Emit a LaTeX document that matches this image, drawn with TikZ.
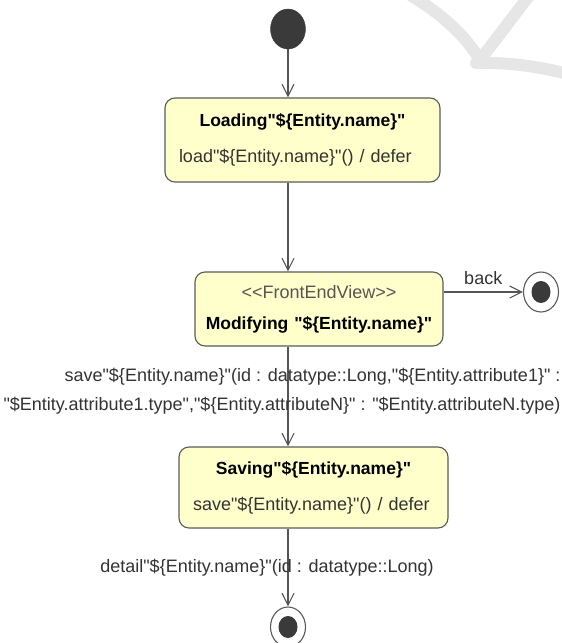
\documentclass[tikz,border=0pt]{standalone}
\usepackage{fontspec}
\setmainfont[Ligatures=TeXOff]{Liberation Sans}
\usetikzlibrary{arrows.meta, shapes.geometric}
\definecolor{StateFill}{HTML}{FFFFCC}
\definecolor{StateLine}{HTML}{5A5A5A}
\definecolor{EdgeGray}{HTML}{555555}
\definecolor{TextGray}{HTML}{333333}
\definecolor{DotGray}{HTML}{3A3A3A}
\definecolor{MarkGray}{HTML}{E6E6E6}
\newcommand{\titleline}[1]{\makebox[\linewidth]{\fontsize{17.5}{22}\selectfont\bfseries\color{black}#1}}
\newcommand{\stereoline}[1]{\makebox[\linewidth]{\color{EdgeGray}#1}}
\tikzset{
  state/.style={draw=StateLine, line width=1.1pt, rounded corners=10pt, fill=StateFill, align=left, inner xsep=14pt, inner ysep=0pt, text=TextGray, font=\fontsize{18}{22}\selectfont},
  initial/.style={ellipse, fill=DotGray, draw=DotGray, minimum width=35pt, minimum height=40pt, inner sep=0pt},
  final/.style={ellipse, fill=white, draw=StateLine, line width=1.1pt, minimum width=35pt, minimum height=40pt, inner sep=0pt,
    path picture={\fill[DotGray] (path picture bounding box.center) ellipse (9.5pt and 11pt);}},
  edgelabel/.style={text=TextGray, font=\fontsize{18}{29}\selectfont, inner sep=0pt},
  arrow/.style={-{Straight Barb[length=12pt, width=12pt]}, line width=1.1pt, draw=EdgeGray},
  watermark/.style={draw=MarkGray, line width=12pt, line cap=round}
}
\begin{document}
\begin{tikzpicture}[x=1pt, y=-1pt]
\useasboundingbox (0,0) rectangle (562,643);
% faint mark, top right
\draw[watermark] (405,-8) .. controls (440,12) and (465,35) .. (480,60);
\draw[watermark] (532,-8) -- (480,60);
\draw[watermark] (476,63) .. controls (505,62) and (540,66) .. (575,76);
% states
\node[initial] (init) at (288,29) {};
\node[state, minimum width=275pt, minimum height=84pt, text width=247pt] (load) at (302.5,140)
  {\titleline{Loading"\$\{Entity.name\}"}\\[14pt]load"\$\{Entity.name\}"() / defer};
\node[state, minimum width=248pt, minimum height=74pt, text width=220pt] (modify) at (319,309)
  {\stereoline{<<FrontEndView>>}\\[9pt]\titleline{Modifying "\$\{Entity.name\}"}};
\node[state, minimum width=269pt, minimum height=81pt, text width=241pt] (save) at (313.5,487.5)
  {\titleline{Saving"\$\{Entity.name\}"}\\[14pt]save"\$\{Entity.name\}"() / defer};
\node[final] (done1) at (541,292) {};
\node[final] (done2) at (288,627) {};
% transitions
\draw[arrow] (init.south) -- (init.south |- load.north);
\draw[arrow] (load.south -| init) -- (modify.north -| init);
\draw[arrow] (done1.west -| modify.east) -- node[edgelabel, above=7pt] {back} (done1.west);
\draw[arrow] (modify.south -| init) -- node[edgelabel, align=right, pos=0.45, xshift=-6pt]
  {save"\$\{Entity.name\}"(id : datatype::Long,"\$\{Entity.attribute1\}" :\\"\$Entity.attribute1.type","\$\{Entity.attributeN\}" : "\$Entity.attributeN.type)} (save.north -| init);
\draw[arrow] (save.south -| done2) -- node[edgelabel, xshift=-21pt] {detail"\$\{Entity.name\}"(id : datatype::Long)} (done2.north);
\end{tikzpicture}
\end{document}
